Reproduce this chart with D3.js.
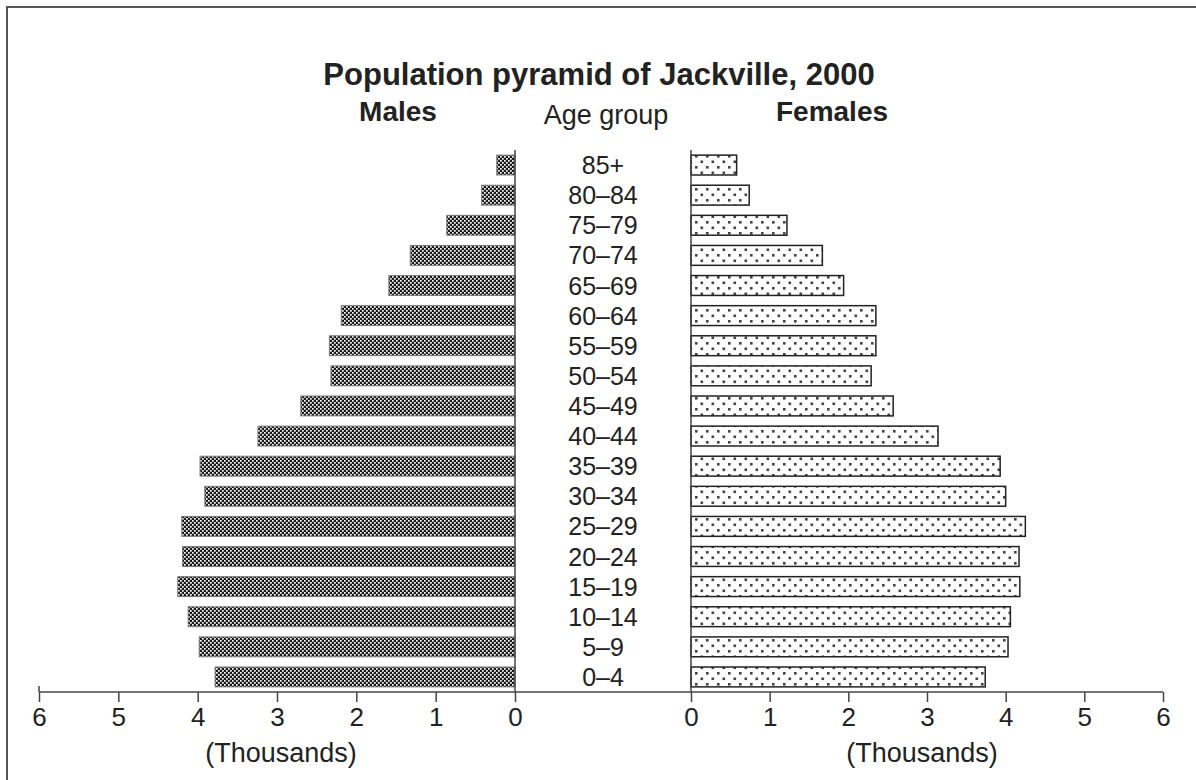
<!DOCTYPE html>
<html>
<head>
<meta charset="utf-8">
<script src="https://cdn.jsdelivr.net/npm/d3@7"></script>
<style>
  body { margin: 0; background: #fff; }
  text { font-family: "Liberation Sans", Arial, Helvetica, sans-serif; fill: #222; }
</style>
</head>
<body>
<svg id="chart" width="1196" height="780"></svg>
<script>
// Age groups, top to bottom
const ageGroups = ["85+", "80–84", "75–79", "70–74", "65–69", "60–64", "55–59", "50–54",
  "45–49", "40–44", "35–39", "30–34", "25–29", "20–24", "15–19", "10–14", "5–9", "0–4"];
// Population in thousands
const males = [0.23, 0.42, 0.86, 1.32, 1.59, 2.19, 2.34, 2.32, 2.70, 3.24,
  3.97, 3.91, 4.20, 4.19, 4.25, 4.12, 3.98, 3.78];
const females = [0.58, 0.74, 1.22, 1.67, 1.94, 2.35, 2.35, 2.29, 2.57, 3.14,
  3.93, 4.00, 4.25, 4.17, 4.18, 4.06, 4.03, 3.74];
const tickValues = [0, 1, 2, 3, 4, 5, 6];

const svg = d3.select("#chart");

// frame (only top and left visible in the crop)
svg.append("rect")
  .attr("x", 7).attr("y", 7)
  .attr("width", 1250).attr("height", 800)
  .attr("fill", "none")
  .attr("stroke", "#555")
  .attr("stroke-width", 2);

// patterns
const defs = svg.append("defs");
const mp = defs.append("pattern")
  .attr("id", "malePat")
  .attr("patternUnits", "userSpaceOnUse")
  .attr("width", 4).attr("height", 4);
mp.append("rect").attr("width", 4).attr("height", 4).attr("fill", "#1a1a1a");
mp.append("rect").attr("x", 0).attr("y", 0).attr("width", 1.7).attr("height", 1.7).attr("fill", "#fff");
mp.append("rect").attr("x", 2).attr("y", 2).attr("width", 1.7).attr("height", 1.7).attr("fill", "#fff");

const fp = defs.append("pattern")
  .attr("id", "femalePat")
  .attr("patternUnits", "userSpaceOnUse")
  .attr("width", 11).attr("height", 11);
fp.append("rect").attr("width", 11).attr("height", 11).attr("fill", "#fff");
fp.append("rect").attr("x", 2).attr("y", 1).attr("width", 2.6).attr("height", 2.6).attr("fill", "#444");
fp.append("rect").attr("x", 7.5).attr("y", 6.5).attr("width", 2.6).attr("height", 2.6).attr("fill", "#444");

// scales
const y = d3.scaleBand()
  .domain(ageGroups)
  .range([150, 692])
  .paddingInner(0.34)
  .paddingOuter(0.17);

const xMale = d3.scaleLinear().domain([0, 6]).range([515, 39]);
const xFemale = d3.scaleLinear().domain([0, 6]).range([691, 1163]);
const axisY = 692;

// title and headers
svg.append("text")
  .attr("x", 599).attr("y", 85)
  .attr("text-anchor", "middle")
  .style("font-size", "31px").style("font-weight", "bold")
  .text("Population pyramid of Jackville, 2000");

svg.append("text")
  .attr("x", 398).attr("y", 121)
  .attr("text-anchor", "middle")
  .style("font-size", "28px").style("font-weight", "bold")
  .text("Males");
svg.append("text")
  .attr("x", 606).attr("y", 124)
  .attr("text-anchor", "middle")
  .style("font-size", "27px")
  .text("Age group");
svg.append("text")
  .attr("x", 832).attr("y", 121)
  .attr("text-anchor", "middle")
  .style("font-size", "28px").style("font-weight", "bold")
  .text("Females");

// bars
svg.append("g").selectAll("rect")
  .data(males)
  .join("rect")
  .attr("x", d => xMale(d))
  .attr("y", (d, i) => y(ageGroups[i]))
  .attr("width", d => xMale(0) - xMale(d))
  .attr("height", y.bandwidth())
  .attr("fill", "url(#malePat)")
  .attr("stroke", "#777")
  .attr("stroke-width", 1);

svg.append("g").selectAll("rect")
  .data(females)
  .join("rect")
  .attr("x", xFemale(0))
  .attr("y", (d, i) => y(ageGroups[i]))
  .attr("width", d => xFemale(d) - xFemale(0))
  .attr("height", y.bandwidth())
  .attr("fill", "url(#femalePat)")
  .attr("stroke", "#222")
  .attr("stroke-width", 1.5);

// age labels
svg.append("g").selectAll("text")
  .data(ageGroups)
  .join("text")
  .attr("x", 603)
  .attr("y", d => y(d) + y.bandwidth() / 2)
  .attr("dy", "0.36em")
  .attr("text-anchor", "middle")
  .style("font-size", "25px")
  .text(d => d);

// zero lines
[xMale(0), xFemale(0)].forEach(x => {
  svg.append("line")
    .attr("x1", x).attr("x2", x)
    .attr("y1", 150).attr("y2", axisY)
    .attr("stroke", "#444").attr("stroke-width", 1.5);
});

// axes
function drawAxis(scale) {
  const g = svg.append("g")
    .attr("transform", `translate(0,${axisY})`)
    .call(d3.axisBottom(scale).tickValues(tickValues).tickFormat(d3.format("d"))
      .tickSize(10).tickPadding(6));
  g.select(".domain").remove();
  g.selectAll(".tick line").attr("stroke", "#444").attr("stroke-width", 1.5);
  g.selectAll(".tick text")
    .style("font-size", "26px")
    .style("font-family", "'Liberation Sans', Arial, sans-serif")
    .attr("fill", "#222");
}
drawAxis(xMale);
drawAxis(xFemale);

svg.append("line")
  .attr("x1", xMale(6)).attr("x2", xFemale(6))
  .attr("y1", axisY).attr("y2", axisY)
  .attr("stroke", "#444").attr("stroke-width", 1.5);
svg.append("line")
  .attr("x1", xMale(6)).attr("x2", xMale(6))
  .attr("y1", axisY - 6).attr("y2", axisY)
  .attr("stroke", "#444").attr("stroke-width", 1.5);

svg.append("text")
  .attr("x", 281).attr("y", 762)
  .attr("text-anchor", "middle")
  .style("font-size", "27px")
  .text("(Thousands)");
svg.append("text")
  .attr("x", 922).attr("y", 762)
  .attr("text-anchor", "middle")
  .style("font-size", "27px")
  .text("(Thousands)");
</script>
</body>
</html>
